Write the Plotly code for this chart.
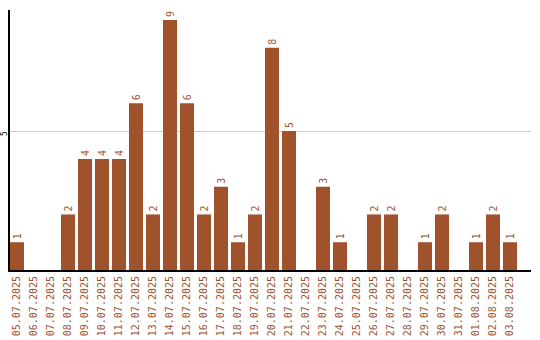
import plotly.graph_objects as go

dates = ["05.07.2025","06.07.2025","07.07.2025","08.07.2025","09.07.2025","10.07.2025",
         "11.07.2025","12.07.2025","13.07.2025","14.07.2025","15.07.2025","16.07.2025",
         "17.07.2025","18.07.2025","19.07.2025","20.07.2025","21.07.2025","22.07.2025",
         "23.07.2025","24.07.2025","25.07.2025","26.07.2025","27.07.2025","28.07.2025",
         "29.07.2025","30.07.2025","31.07.2025","01.08.2025","02.08.2025","03.08.2025"]
values = [1,0,0,2,4,4,4,6,2,9,6,2,3,1,2,8,5,0,3,1,0,2,2,0,1,2,0,1,2,1]
labels = [str(v) if v else "" for v in values]
y_ticks = [5]

color = "#A0522D"
font = "DejaVu Sans Mono"

fig = go.Figure(go.Bar(
    x=dates, y=values, text=labels, textposition="outside", textangle=-90,
    textfont=dict(family=font, size=10, color=color), constraintext="none",
    cliponaxis=False, marker=dict(color=color, line=dict(width=0)),
))
fig.update_layout(
    width=540, height=340, margin=dict(l=10, r=9, t=10, b=70),
    paper_bgcolor="white", plot_bgcolor="white", showlegend=False,
    bargap=0.176,
    xaxis=dict(type="category", range=[-0.412, 30.235], tickangle=-90,
               tickfont=dict(family=font, size=10, color=color), automargin=False,
               showline=True, linecolor="black", linewidth=2, showgrid=False,
               ticks="", ticklen=0),
    yaxis=dict(range=[0, 9.36], tickvals=y_ticks, showticklabels=False, automargin=False,
               showline=True, linecolor="black", linewidth=1.5, showgrid=True,
               gridcolor="#cccccc", gridwidth=1, zeroline=False, ticks=""),
)
for t in y_ticks:
    fig.add_annotation(x=0, xref="paper", xanchor="center", xshift=-5.5, y=t, yref="y",
                       yanchor="middle", yshift=-2.5, text=str(t), textangle=-90,
                       showarrow=False, borderpad=0,
                       font=dict(family=font, size=8, color="black"))
fig.write_html("out.html")
